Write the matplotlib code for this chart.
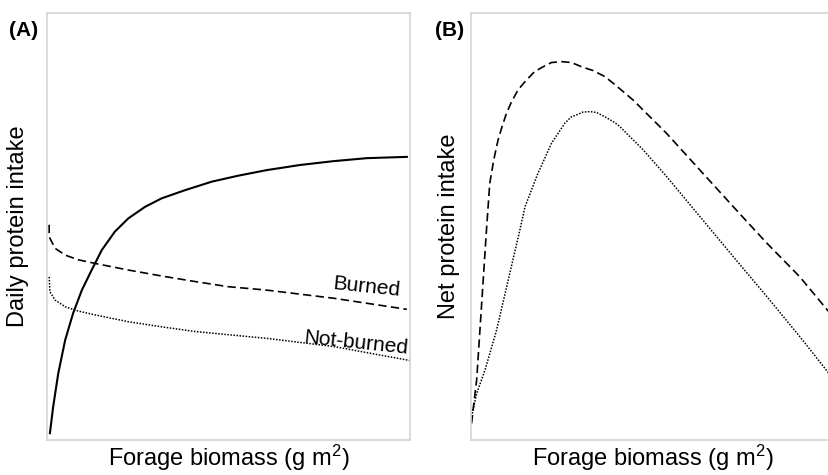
import numpy as np
import matplotlib
matplotlib.use("Agg")
import matplotlib.pyplot as plt

plt.rcParams['font.family'] = ['Liberation Sans', 'DejaVu Sans']
plt.rcParams['mathtext.fontset'] = 'custom'
plt.rcParams['mathtext.rm'] = 'Liberation Sans'
plt.rcParams['mathtext.it'] = 'Liberation Sans:italic'

# (A) daily protein intake vs forage biomass (arbitrary units, 0-100)
a_solid_x = [0.8, 1.7, 3.1, 5.0, 7.2, 9.6, 12.3, 15.1, 18.7, 22.4, 27.0, 31.6, 38.0,
             45.4, 52.7, 60.5, 69.7, 78.9, 88.1, 99.1]
a_solid_y = [1.6, 7.8, 15.6, 23.4, 29.7, 35.1, 39.8, 44.5, 48.8, 51.9, 54.6, 56.6, 58.5,
             60.5, 61.9, 63.2, 64.4, 65.3, 66.0, 66.3]

a_burned_x = [0.6, 0.6, 2.2, 5.0, 8.6, 14.1, 22.4, 31.6, 40.8, 49.9, 60.5, 78.9, 99.1]
a_burned_y = [50.4, 47.6, 44.9, 43.3, 42.2, 41.2, 39.8, 38.4, 37.1, 35.9, 35.1, 33.2, 30.6]

a_notburned_x = [0.6, 0.8, 2.2, 5.0, 8.6, 13.2, 22.4, 31.6, 40.8, 60.5, 78.9, 100.0]
a_notburned_y = [38.2, 34.7, 32.8, 31.2, 30.2, 29.3, 27.7, 26.5, 25.4, 23.8, 21.9, 18.6]

# (B) net protein intake
b_burned_x = [0.2, 0.6, 1.6, 2.5, 3.4, 4.3, 5.2, 6.3, 7.5, 8.6, 9.8, 11.2, 13.0, 15.3,
              17.6, 19.9, 22.2, 25.0, 27.7, 30.5, 33.7, 36.9, 39.7, 44.7, 53.9, 63.1,
              72.3, 81.5, 90.6, 98.6]
b_burned_y = [3.9, 7.0, 14.1, 25.8, 37.5, 49.2, 60.1, 65.6, 70.3, 73.4, 76.5, 79.2, 82.0, 84.3,
              86.3, 87.4, 88.4, 88.6, 88.4, 87.4, 86.5, 85.1, 83.2, 79.6, 71.8, 63.2,
              54.6, 46.1, 38.2, 30.0]

b_notburned_x = [0.2, 1.6, 3.9, 7.1, 10.3, 13.5, 14.9, 18.5, 22.2, 25.9, 27.7, 29.6, 30.9,
                 32.8, 34.6, 36.9, 39.7, 41.0, 47.5, 53.9, 63.1, 72.3, 81.5, 90.6, 98.6]
b_notburned_y = [5.5, 10.9, 16.4, 25.8, 37.5, 49.2, 54.6, 62.5, 69.5, 74.2, 75.7, 76.3, 76.8,
                 76.9, 76.7, 75.7, 74.3, 73.4, 67.9, 61.7, 52.3, 42.9, 33.6, 24.2, 15.6]

fig = plt.figure(figsize=(8.29, 4.75), dpi=100)
axA = fig.add_axes([0.0567, 0.0737, 0.438, 0.899])
axB = fig.add_axes([0.568, 0.0737, 0.438, 0.899])

dash = (0, (5, 2.6))
dot = (0, (1, 1))

axA.plot(a_solid_x, a_solid_y, color='black', lw=1.5, solid_joinstyle='round')
axA.plot(a_burned_x, a_burned_y, color='black', lw=1.2, linestyle=dash)
axA.plot(a_notburned_x, a_notburned_y, color='black', lw=1.1, linestyle=dot)
axA.text(88, 35.8, 'Burned', fontsize=15, rotation=-6, ha='center', va='center')
axA.text(85, 22.8, 'Not-burned', fontsize=15, rotation=-6, ha='center', va='center')

axB.plot(b_burned_x, b_burned_y, color='black', lw=1.2, linestyle=dash)
axB.plot(b_notburned_x, b_notburned_y, color='black', lw=1.1, linestyle=dot)

for ax, ylab, pad in [(axA, 'Daily protein intake', 13), (axB, 'Net protein intake', 8)]:
    ax.set_xlim(0, 100)
    ax.set_ylim(0, 100)
    ax.set_xticks([])
    ax.set_yticks([])
    for s in ax.spines.values():
        s.set_color('#d4d4d4')
        s.set_linewidth(1.2)
    ax.set_xlabel('Forage biomass (g m$^{2}$)', fontsize=17, labelpad=2)
    ax.set_ylabel(ylab, fontsize=17, labelpad=pad)

fig.text(9 / 829, 1 - 30 / 475, '(A)', fontsize=15, fontweight='bold', ha='left', va='center')
fig.text(435 / 829, 1 - 30 / 475, '(B)', fontsize=15, fontweight='bold', ha='left', va='center')

fig.savefig('out.png', dpi=100)
